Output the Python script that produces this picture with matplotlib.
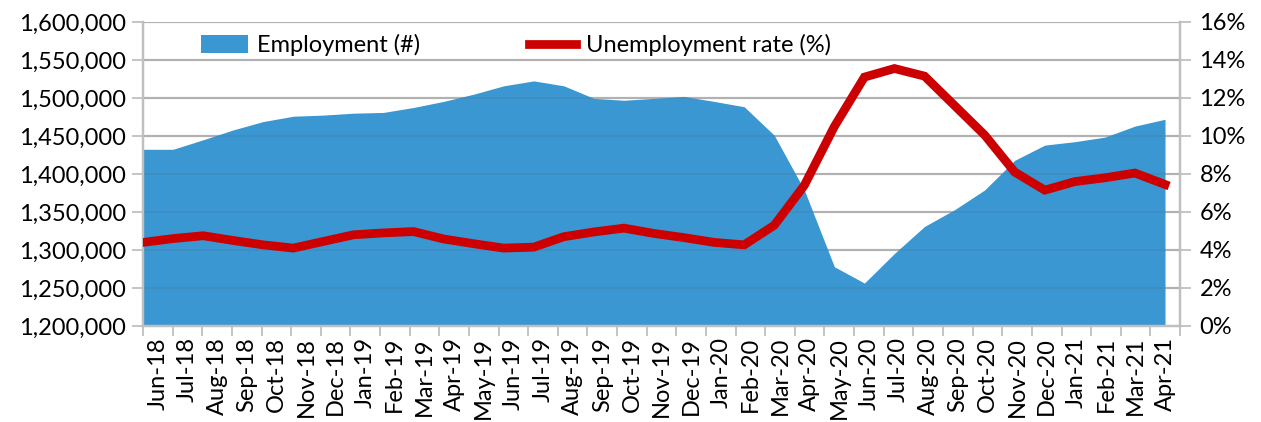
import numpy as np
import matplotlib.pyplot as plt
from matplotlib.patches import Patch
from matplotlib.lines import Line2D
from matplotlib.ticker import FuncFormatter

plt.rcParams['font.family'] = ['Lato', 'DejaVu Sans']

months = ["Jun-18", "Jul-18", "Aug-18", "Sep-18", "Oct-18", "Nov-18", "Dec-18",
          "Jan-19", "Feb-19", "Mar-19", "Apr-19", "May-19", "Jun-19", "Jul-19",
          "Aug-19", "Sep-19", "Oct-19", "Nov-19", "Dec-19", "Jan-20", "Feb-20",
          "Mar-20", "Apr-20", "May-20", "Jun-20", "Jul-20", "Aug-20", "Sep-20",
          "Oct-20", "Nov-20", "Dec-20", "Jan-21", "Feb-21", "Mar-21", "Apr-21"]
# employment (persons)
employment = [1432500, 1432500, 1445000, 1458000, 1469000, 1476000, 1477500,
              1480000, 1481000, 1487500, 1495500, 1505000, 1516000, 1522500,
              1516000, 1499500, 1497000, 1499500, 1502000, 1495500, 1488500,
              1451000, 1379000, 1278000, 1256500, 1295500, 1331000, 1353000,
              1379000, 1418000, 1438000, 1442500, 1448500, 1463000, 1472000]
# unemployment rate (%)
unemp_rate = [4.4, 4.6, 4.75, 4.5, 4.27, 4.1, 4.45, 4.8, 4.9, 4.97, 4.58,
              4.33, 4.1, 4.15, 4.7, 4.95, 5.15, 4.87, 4.65, 4.4, 4.27,
              5.3, 7.4, 10.5, 13.1, 13.55, 13.15, 11.6, 10.05, 8.1, 7.15,
              7.6, 7.8, 8.05, 7.45]

blue = "#3A97D2"
red = "#CC0000"
grid_c = "#BFBFBF"
fs = 17

fig = plt.figure(figsize=(12.61, 4.22), dpi=100)
ax = fig.add_axes([0.1134, 0.2275, 0.8224, 0.7204])
ax2 = ax.twinx()

x = np.arange(len(months))
ax.fill_between(x, 1200000, employment, color=blue, lw=0, zorder=2)
ax.set_ylim(1200000, 1600000)
ax.set_xlim(0, 34.5)
yt = np.arange(1200000, 1600001, 50000)
ax.set_yticks(yt)
ax.yaxis.set_major_formatter(FuncFormatter(lambda v, p: f"{int(v):,}"))
for v in yt[1:]:
    ax.axhline(v, color=grid_c, lw=1.6, zorder=1)
    ax.axhline(v, color="#555555", lw=1.2, alpha=0.15, zorder=3)

# category axis: ticks at edges, labels between them
edges = np.linspace(0, 34.5, len(months) + 1)
ax.set_xticks(edges, minor=True)
ax.set_xticks((edges[:-1] + edges[1:]) / 2)
ax.set_xticklabels(months, rotation=90, fontsize=fs)
ax.tick_params(axis='x', which='major', length=0, pad=8)
ax.tick_params(axis='x', which='minor', length=7, width=1.3, color=grid_c)
ax.tick_params(axis='y', labelsize=fs, length=8, width=1.3, color=grid_c, pad=4)

ax2.plot(x, unemp_rate, color=red, lw=6.3, solid_joinstyle='miter', zorder=4)
ax2.set_ylim(0, 16)
ax2.set_yticks(np.arange(0, 17, 2))
ax2.yaxis.set_major_formatter(FuncFormatter(lambda v, p: f"{int(v)}%"))
ax2.tick_params(axis='y', labelsize=fs, length=8, width=1.3, color=grid_c, pad=6)

for a in (ax, ax2):
    a.spines['top'].set_visible(False)
    for s in ('left', 'right', 'bottom'):
        a.spines[s].set_color(grid_c)
        a.spines[s].set_linewidth(1.6)

handles = [Patch(facecolor=blue, edgecolor='none'),
           Line2D([0], [0], color=red, lw=6.3)]
ax2.legend(handles, ["Employment (#)", "Unemployment rate (%)"], loc='upper left',
           bbox_to_anchor=(0.035, 1.03), ncol=2, frameon=False, fontsize=fs,
           handlelength=2.0, handleheight=0.8, columnspacing=4.6, handletextpad=0.4)

fig.savefig("out.png", dpi=100)
